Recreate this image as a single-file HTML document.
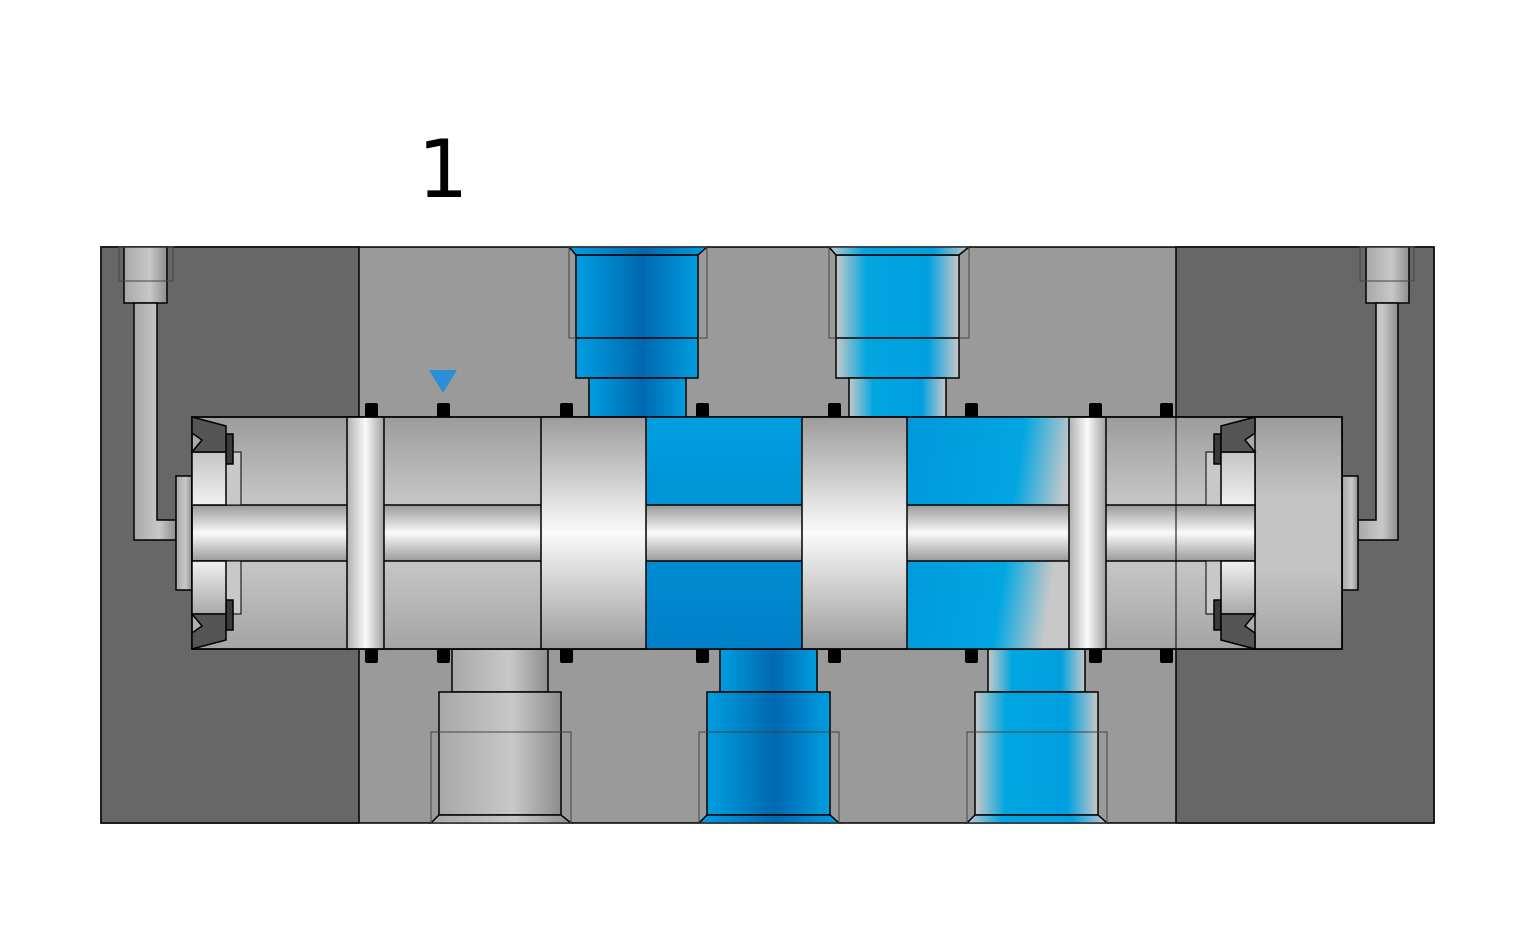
<!DOCTYPE html>
<html><head><meta charset="utf-8"><style>html,body{margin:0;padding:0;background:#fff}svg{display:block}</style></head><body>
<svg width="1535" height="945" viewBox="0 0 1535 945" xmlns="http://www.w3.org/2000/svg">
<defs>
<linearGradient id="gH" x1="0" x2="1" y1="0" y2="0"><stop offset="0" stop-color="#a8a8a8"/><stop offset="0.6" stop-color="#c8c8c8"/><stop offset="1" stop-color="#8e8e8e"/></linearGradient>
<linearGradient id="shaft" x1="0" x2="0" y1="0" y2="1"><stop offset="0" stop-color="#9a9a9a"/><stop offset="0.5" stop-color="#fafafa"/><stop offset="1" stop-color="#9a9a9a"/></linearGradient>
<linearGradient id="body" x1="0" x2="0" y1="0" y2="1"><stop offset="0" stop-color="#9c9c9c"/><stop offset="0.35" stop-color="#c4c4c4"/><stop offset="0.65" stop-color="#c4c4c4"/><stop offset="1" stop-color="#a4a4a4"/></linearGradient>
<linearGradient id="seg" x1="0" x2="0" y1="0" y2="1"><stop offset="0" stop-color="#c4c4c4"/><stop offset="1" stop-color="#f0f0f0"/></linearGradient>
<linearGradient id="seg2" x1="0" x2="0" y1="0" y2="1"><stop offset="0" stop-color="#f0f0f0"/><stop offset="1" stop-color="#a8a8a8"/></linearGradient>
<linearGradient id="land" x1="0" x2="0" y1="0" y2="1"><stop offset="0" stop-color="#9c9c9c"/><stop offset="0.5" stop-color="#fafafa"/><stop offset="1" stop-color="#9c9c9c"/></linearGradient>
<linearGradient id="landV" x1="0" x2="1" y1="0" y2="0"><stop offset="0" stop-color="#b0b0b0"/><stop offset="0.5" stop-color="#fafafa"/><stop offset="1" stop-color="#a0a0a0"/></linearGradient>
<linearGradient id="blue" x1="0" x2="1" y1="0" y2="0"><stop offset="0" stop-color="#009ee0"/><stop offset="0.55" stop-color="#0068b0"/><stop offset="1" stop-color="#009ee0"/></linearGradient>
<linearGradient id="blueL" x1="0" x2="1" y1="0" y2="0"><stop offset="0" stop-color="#c8c8c8"/><stop offset="0.25" stop-color="#00a6e0"/><stop offset="0.75" stop-color="#00a0e0"/><stop offset="1" stop-color="#c8c8c8"/></linearGradient>
<linearGradient id="blueC" x1="0" x2="0" y1="0" y2="1"><stop offset="0" stop-color="#009ee0"/><stop offset="1" stop-color="#0080c8"/></linearGradient>
<linearGradient id="blueD" x1="0" x2="1" y1="0" y2="0.2"><stop offset="0" stop-color="#0098dc"/><stop offset="0.7" stop-color="#00a6e2"/><stop offset="1" stop-color="#c8c8c8"/></linearGradient>
</defs>
<text x="443" y="197" font-family="DejaVu Sans, Liberation Sans, sans-serif" font-size="80" text-anchor="middle" fill="#000">1</text>
<rect x="101" y="247" width="1333" height="576" fill="#999a99" stroke="#000" stroke-width="1.5"/>
<rect x="101" y="247" width="258" height="576" fill="#676767" stroke="#000" stroke-width="1.5"/>
<rect x="1176" y="247" width="258" height="576" fill="#676767" stroke="#000" stroke-width="1.5"/>
<g stroke="#000" stroke-width="1.5">
<rect x="124" y="247" width="43" height="56" fill="url(#gH)"/>
<rect x="119" y="247" width="54" height="34" fill="none" stroke="#444" stroke-width="1"/>
<path d="M134 303 H157 V520 H176 V540 H134 Z" fill="url(#gH)"/>
<rect x="1366" y="247" width="43" height="56" fill="url(#gH)"/>
<rect x="1360" y="247" width="54" height="34" fill="none" stroke="#444" stroke-width="1"/>
<path d="M1376 303 H1398 V540 H1358 V520 H1376 Z" fill="url(#gH)"/>
<rect x="176" y="476" width="16" height="114" fill="url(#gH)"/>
<rect x="1342" y="476" width="16" height="114" fill="url(#gH)"/>
<rect x="576" y="255" width="122" height="123" fill="url(#blue)"/>
<path d="M569 247 H707 L698 255 H576 Z" fill="url(#blue)"/>
<rect x="589" y="378" width="97" height="39" fill="url(#blue)"/>
<rect x="569" y="247" width="138" height="91" fill="none" stroke="#444" stroke-width="1"/>
<line x1="576" y1="338" x2="698" y2="338"/>
<rect x="836" y="255" width="123" height="123" fill="url(#blueL)"/>
<path d="M829 247 H969 L959 255 H836 Z" fill="url(#blueL)"/>
<rect x="849" y="378" width="97" height="39" fill="url(#blueL)"/>
<rect x="829" y="247" width="140" height="91" fill="none" stroke="#444" stroke-width="1"/>
<line x1="836" y1="338" x2="959" y2="338"/>
<rect x="452" y="649" width="96" height="43" fill="url(#gH)"/>
<rect x="439" y="692" width="122" height="123" fill="url(#gH)"/>
<path d="M439 815 H561 L571 823 H431 Z" fill="url(#gH)"/>
<rect x="431" y="732" width="140" height="91" fill="none" stroke="#444" stroke-width="1"/>
<rect x="720" y="649" width="97" height="43" fill="url(#blue)"/>
<rect x="707" y="692" width="123" height="123" fill="url(#blue)"/>
<path d="M707 815 H830 L839 823 H699 Z" fill="url(#blue)"/>
<rect x="699" y="732" width="140" height="91" fill="none" stroke="#444" stroke-width="1"/>
<rect x="988" y="649" width="97" height="43" fill="url(#blueL)"/>
<rect x="975" y="692" width="123" height="123" fill="url(#blueL)"/>
<path d="M975 815 H1098 L1107 823 H967 Z" fill="url(#blueL)"/>
<rect x="967" y="732" width="140" height="91" fill="none" stroke="#444" stroke-width="1"/>
<rect x="192" y="417" width="1150" height="232" fill="url(#body)"/>
<rect x="1255" y="417" width="87" height="232" fill="url(#body)"/>
<rect x="646" y="417" width="156" height="232" fill="url(#blueC)" stroke="none"/>
<rect x="907" y="417" width="162" height="232" fill="url(#blueD)" stroke="none"/>
<rect x="192" y="505" width="1063" height="56" fill="url(#shaft)"/>
<rect x="347" y="417" width="37" height="232" fill="url(#landV)"/>
<rect x="541" y="417" width="105" height="232" fill="url(#land)"/>
<rect x="802" y="417" width="105" height="232" fill="url(#land)"/>
<rect x="1069" y="417" width="37" height="232" fill="url(#landV)"/>
<rect x="192" y="417" width="1150" height="232" fill="none"/>
<line x1="1176" y1="417" x2="1176" y2="649" stroke-width="1"/>
<rect x="226" y="452" width="15" height="53" fill="#c8c8c8" stroke-width="1"/>
<rect x="226" y="561" width="15" height="53" fill="#c8c8c8" stroke-width="1"/>
<rect x="226" y="434" width="7" height="30" fill="#3a3a3a"/>
<rect x="226" y="600" width="7" height="30" fill="#3a3a3a"/>
<rect x="192" y="452" width="34" height="53" fill="url(#seg)"/>
<rect x="192" y="561" width="34" height="53" fill="url(#seg2)"/>
<path d="M192 417 L226 426 V452 H192 L202 440 L192 433 Z" fill="#555"/>
<path d="M192 649 L226 640 V614 H192 L202 626 L192 633 Z" fill="#555"/>
<rect x="1206" y="452" width="15" height="53" fill="#c8c8c8" stroke-width="1"/>
<rect x="1206" y="561" width="15" height="53" fill="#c8c8c8" stroke-width="1"/>
<rect x="1214" y="434" width="7" height="30" fill="#3a3a3a"/>
<rect x="1214" y="600" width="7" height="30" fill="#3a3a3a"/>
<rect x="1221" y="452" width="34" height="53" fill="url(#seg)"/>
<rect x="1221" y="561" width="34" height="53" fill="url(#seg2)"/>
<path d="M1255 417 L1221 426 V452 H1255 L1245 440 L1255 433 Z" fill="#555"/>
<path d="M1255 649 L1221 640 V614 H1255 L1245 626 L1255 633 Z" fill="#555"/>
</g>
<g fill="#000">
<rect x="365" y="403" width="13" height="14" rx="2"/><rect x="437" y="403" width="13" height="14" rx="2"/><rect x="560" y="403" width="13" height="14" rx="2"/><rect x="696" y="403" width="13" height="14" rx="2"/><rect x="828" y="403" width="13" height="14" rx="2"/><rect x="965" y="403" width="13" height="14" rx="2"/><rect x="1089" y="403" width="13" height="14" rx="2"/><rect x="1160" y="403" width="13" height="14" rx="2"/>
<rect x="365" y="649" width="13" height="14" rx="2"/><rect x="437" y="649" width="13" height="14" rx="2"/><rect x="560" y="649" width="13" height="14" rx="2"/><rect x="696" y="649" width="13" height="14" rx="2"/><rect x="828" y="649" width="13" height="14" rx="2"/><rect x="965" y="649" width="13" height="14" rx="2"/><rect x="1089" y="649" width="13" height="14" rx="2"/><rect x="1160" y="649" width="13" height="14" rx="2"/>
</g>
<path d="M429 370 H457 L443 393 Z" fill="#2b8fd6"/>
</svg>
</body></html>
